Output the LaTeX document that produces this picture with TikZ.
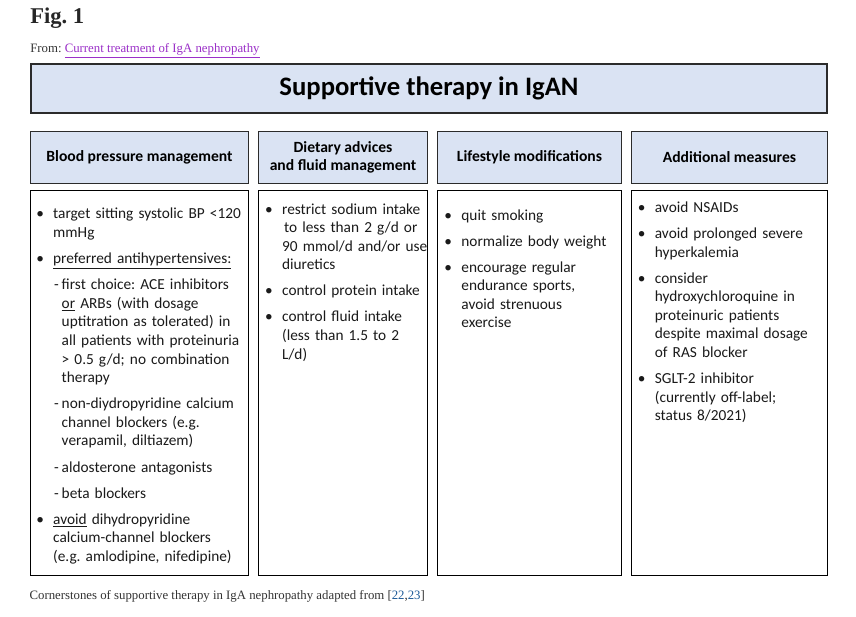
\documentclass[tikz,border=0pt]{standalone}
\usepackage{fontspec}
\setmainfont{Carlito}
\newfontfamily\webserif{Liberation Serif}
\usepackage{tikz}
\usetikzlibrary{positioning}
\definecolor{cabecera}{HTML}{DAE3F3}
\definecolor{borde}{HTML}{2B2B2B}
\definecolor{texto}{HTML}{1A1A1A}
\definecolor{gris}{HTML}{333333}
\definecolor{enlace}{HTML}{9B30C8}
\definecolor{cita}{HTML}{1F5C99}
\frenchspacing
% bullet item and dash sub-item, hanging indent
\newcommand{\punto}{\par\vspace{5.6pt}\noindent\hangindent=12.7pt\hangafter=1\strut\makebox[12.7pt][l]{\textbullet}}
\newcommand{\guion}{\par\vspace{5.6pt}\noindent\hangindent=19.1pt\hangafter=1\strut\hspace*{13.4pt}\makebox[5.7pt][l]{-}}

\begin{document}
\begin{tikzpicture}[
  font=\fontsize{11.5}{13.95}\selectfont,
  node distance=6.75pt,
  titulo/.style={rectangle, draw=borde, line width=1.5pt, fill=cabecera, minimum width=597pt, minimum height=36.75pt, inner sep=0pt, font=\fontsize{20}{24}\selectfont\bfseries},
  cabeza/.style={rectangle, draw=borde, line width=1.1pt, fill=cabecera, minimum height=38.65pt, inner sep=0pt, align=center, font=\fontsize{11.7}{13.5}\selectfont\bfseries},
  cuerpo/.style={rectangle, draw=black, line width=1.1pt, fill=white, minimum height=288.4pt, inner sep=0pt},
  lista/.style={anchor=north west, inner sep=0pt, text width=200pt, align=left, text=texto},
  web/.style={inner sep=0pt, anchor=base west, text=gris, font=\webserif\fontsize{9.6}{11.5}\selectfont}
]
\useasboundingbox[fill=white] (0,0) rectangle (642pt,-462.75pt);

\node[web, font=\webserif\bfseries\fontsize{16.9}{20}\selectfont, text=black!85] (fig) at (22.5pt,-18pt) {Fig. 1};
\node[web] (desde) at (22.5pt,-39.75pt) {From: \textcolor{enlace}{\underline{Current treatment of IgA nephropathy}}};

\node[titulo, anchor=north west] (tit) at (22.5pt,-47.25pt) {Supportive therapy in IgAN};

\node[cabeza, minimum width=163.15pt, below=12.75pt of tit.south west, anchor=north west] (h1) {Blood pressure management};
\node[cabeza, minimum width=126.4pt, right=of h1] (h2) {Dietary advices\\and fluid management};
\node[cabeza, minimum width=137.65pt, right=of h2] (h3) {Lifestyle modifications};
\node[cabeza, minimum width=146.65pt, right=of h3] (h4) {Additional measures};

\node[cuerpo, minimum width=163.15pt, below=4.5pt of h1] (b1) {};
\node[cuerpo, minimum width=126.4pt, below=4.5pt of h2] (b2) {};
\node[cuerpo, minimum width=137.65pt, below=4.5pt of h3] (b3) {};
\node[cuerpo, minimum width=146.65pt, below=4.5pt of h4] (b4) {};

\node[lista] (t1) at ([xshift=4.5pt,yshift=-1.95pt]b1.north west) {%
  \punto target sitting systolic BP <120\newline mmHg
  \punto \underline{preferred antihypertensives:}
  \guion first choice: ACE inhibitors\newline \underline{or} ARBs (with dosage\newline uptitration as tolerated) in\newline all patients with proteinuria\newline > 0.5 g/d; no combination\newline therapy
  \guion non-diydropyridine calcium\newline channel blockers (e.g.\newline verapamil, diltiazem)
  \guion aldosterone antagonists
  \guion beta blockers
  \punto \underline{avoid} dihydropyridine\newline calcium-channel blockers\newline (e.g. amlodipine, nifedipine)\par};

\node[lista] (t2) at ([xshift=5.2pt,yshift=1.75pt]b2.north west) {%
  \punto restrict sodium intake\newline \hspace*{1.5pt}to less than 2 g/d or\newline 90 mmol/d and/or use\newline diuretics
  \punto control protein intake
  \punto control fluid intake\newline (less than 1.5 to 2\newline L/d)\par};

\node[lista] (t3) at ([xshift=5.4pt,yshift=-2.75pt]b3.north west) {%
  \punto quit smoking
  \punto normalize body weight
  \punto encourage regular\newline endurance sports,\newline avoid strenuous\newline exercise\par};

\node[lista] (t4) at ([xshift=5pt,yshift=3pt]b4.north west) {%
  \punto avoid NSAIDs
  \punto avoid prolonged severe\newline hyperkalemia
  \punto consider\newline hydroxychloroquine in\newline proteinuric patients\newline despite maximal dosage\newline of RAS blocker
  \punto SGLT-2 inhibitor\newline (currently off-label;\newline status 8/2021)\par};

\node[web] (pie) at (22pt,-449.5pt) {Cornerstones of supportive therapy in IgA nephropathy adapted from [\textcolor{cita}{22},\textcolor{cita}{23}]};
\end{tikzpicture}
\end{document}
